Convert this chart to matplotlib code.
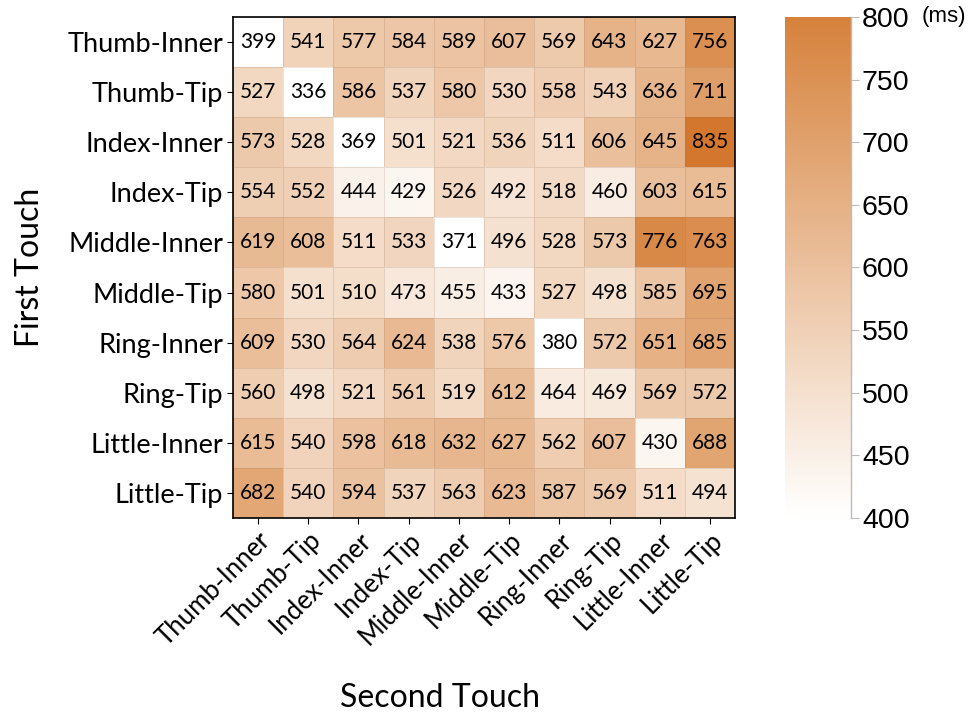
import numpy as np
import matplotlib.pyplot as plt
from matplotlib.colors import LinearSegmentedColormap

touches = ['Thumb-Inner', 'Thumb-Tip', 'Index-Inner', 'Index-Tip', 'Middle-Inner',
           'Middle-Tip', 'Ring-Inner', 'Ring-Tip', 'Little-Inner', 'Little-Tip']

# rows: first touch, columns: second touch (ms)
latency = np.array([
    [399, 541, 577, 584, 589, 607, 569, 643, 627, 756],
    [527, 336, 586, 537, 580, 530, 558, 543, 636, 711],
    [573, 528, 369, 501, 521, 536, 511, 606, 645, 835],
    [554, 552, 444, 429, 526, 492, 518, 460, 603, 615],
    [619, 608, 511, 533, 371, 496, 528, 573, 776, 763],
    [580, 501, 510, 473, 455, 433, 527, 498, 585, 695],
    [609, 530, 564, 624, 538, 576, 380, 572, 651, 685],
    [560, 498, 521, 561, 519, 612, 464, 469, 569, 572],
    [615, 540, 598, 618, 632, 627, 562, 607, 430, 688],
    [682, 540, 594, 537, 563, 623, 587, 569, 511, 494],
])
cbar_ticks = [400, 450, 500, 550, 600, 650, 700, 750, 800]

cmap = LinearSegmentedColormap.from_list('wo', ['#ffffff', '#d6823c'])
cmap.set_over('#d3772f')

fig = plt.figure(figsize=(9.68, 7.18), dpi=100)
ax = fig.add_axes([0.2407, 0.2786, 0.5186, 0.6978])
cax = fig.add_axes([0.811, 0.2786, 0.068, 0.6978])

mesh = ax.pcolormesh(latency, cmap=cmap, vmin=400, vmax=800,
                     edgecolor=(0.55, 0.4, 0.3, 0.18), linewidth=0.6)
ax.set_xlim(0, 10)
ax.set_ylim(10, 0)
for i in range(10):
    for j in range(10):
        ax.text(j + 0.5, i + 0.5, str(latency[i, j]), ha='center', va='center',
                fontsize=15, family='Lato', color='black')

ax.set_xticks(np.arange(10) + 0.5)
ax.set_yticks(np.arange(10) + 0.5)
ax.set_xticklabels(touches, rotation=45, ha='right', rotation_mode='anchor',
                   fontsize=18.5, family='Lato')
ax.set_yticklabels(touches, fontsize=19.5, family='Lato')
ax.tick_params(length=4, width=0.8, pad=3)
for s in ax.spines.values():
    s.set_linewidth(1.2)
ax.set_xlabel('Second Touch', fontsize=23, family='Lato')
ax.xaxis.set_label_coords(0.412, -0.33)
ax.set_ylabel('First Touch', fontsize=23, family='Lato', labelpad=16)

cb = fig.colorbar(mesh, cax=cax, ticks=cbar_ticks)
cb.outline.set_visible(False)
cax.spines['right'].set_visible(True)
cax.spines['right'].set_color('#bbbbbb')
cax.spines['right'].set_linewidth(1)
cax.tick_params(length=6, color='#bbbbbb', labelsize=20.5, pad=2)
for t in cax.get_yticklabels():
    t.set_family('Liberation Sans')
cax.text(2.08, 800, '(ms)', transform=cax.get_yaxis_transform(), fontsize=16,
         family='Liberation Sans', va='center', ha='left')

fig.savefig('out.png')
